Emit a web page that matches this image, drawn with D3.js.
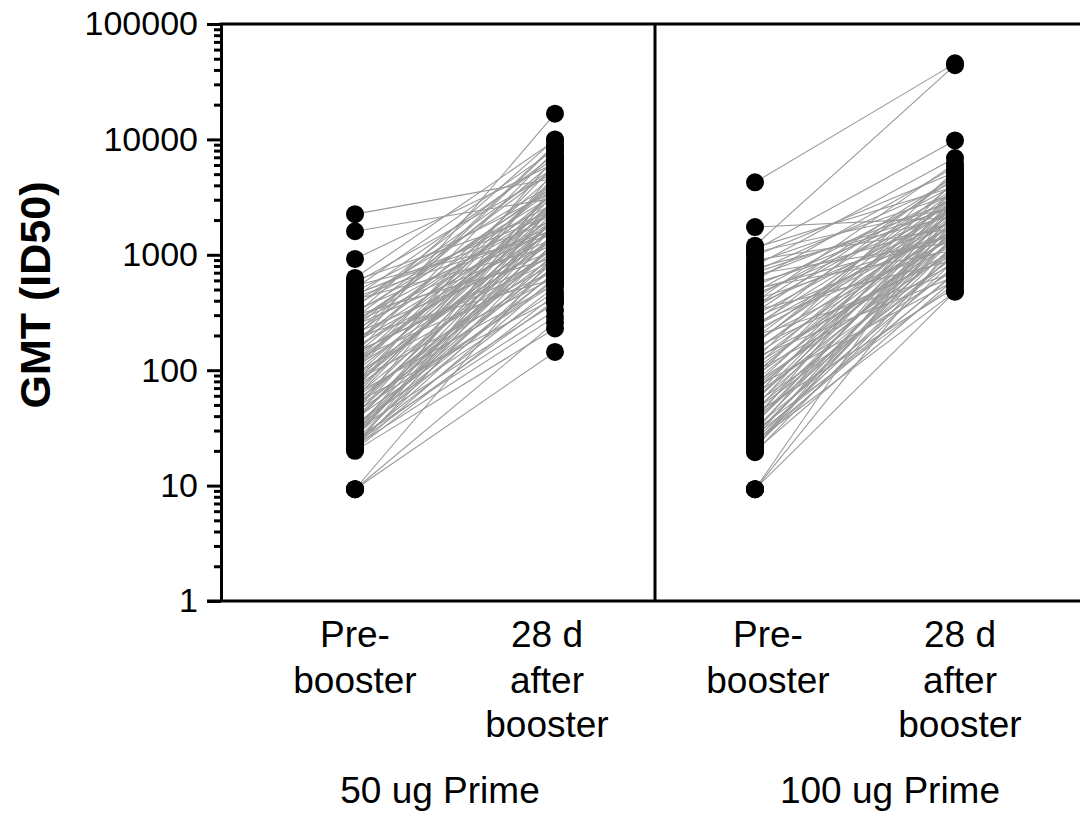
<!DOCTYPE html>
<html>
<head>
<meta charset="utf-8">
<script src="https://d3js.org/d3.v7.min.js"></script>
<style>
  body { margin: 0; background: #fff; }
  text { font-family: "Liberation Sans", Arial, sans-serif; fill: #000; }
</style>
</head>
<body>
<div id="my_dataviz"></div>
<script>

// 50 ug prime: pre-booster and 28 d after booster, paired by index
var pre50 = [2250, 1600, 920, 630, 600, 570, 540, 510, 480, 455, 430, 410, 390, 370, 350, 330, 315, 300, 285, 270,
  258, 245, 232, 220, 210, 200, 190, 182, 175, 166, 158, 150, 143, 136, 130, 124, 118, 112, 107, 102,
  97, 93, 89, 85, 81, 77, 74, 71, 68, 65, 62, 59, 57, 54, 52, 50, 48, 46, 44, 42,
  40, 38, 37, 35, 34, 32, 31, 30, 29, 28, 27, 26, 25, 24.5, 24, 23, 22.5, 22, 21.5, 21,
  20.5, 20, 430, 265, 195, 160, 120, 99, 79, 64, 53, 43, 36, 27.5, 33, 60, 140, 300, 205,
  450, 350, 260, 180, 140, 110, 90, 70, 58, 45, 39, 31, 26, 23, 21, 9.3, 9.3, 9.3];
var post50 = [4600, 3100, 6200, 9800, 2400, 5200, 1500, 8200, 3600, 2000, 6900, 1200, 4200, 2800, 7400, 1800, 3300, 950, 5600, 2300,
  4000, 1400, 6500, 2700, 1100, 3800, 8800, 2100, 1600, 5000, 16700, 2500, 900, 3500, 1900, 720, 4500, 2900, 1300, 6000,
  2200, 850, 3000, 1700, 640, 4800, 2000, 1150, 7000, 2600, 560, 1500, 3400, 980, 420, 2400, 1800, 760, 5400, 1250,
  3100, 600, 1450, 2700, 480, 880, 1900, 380, 1300, 4100, 700, 2200, 330, 1050, 530, 1600, 820, 290, 2900, 640,
  450, 230, 1650, 3900, 620, 1350, 2050, 4400, 1750, 2850, 1100, 560, 2050, 1550, 950, 3700, 8000, 10000, 9000,
  2300, 5800, 1700, 3200, 1000, 2600, 1400, 3600, 780, 2100, 1200, 700, 1800, 400, 1300, 144, 260, 1000];

// 100 ug prime
var pre100 = [4250, 1740, 1200, 1100, 1050, 980, 900, 850, 800, 760, 720, 680, 640, 600, 570, 540, 510, 480, 455, 430,
  410, 390, 370, 350, 330, 315, 300, 285, 270, 258, 245, 232, 220, 210, 200, 190, 182, 175, 166, 158,
  150, 143, 136, 130, 124, 118, 112, 107, 102, 97, 93, 89, 85, 81, 77, 74, 71, 68, 65, 62,
  59, 57, 54, 52, 50, 48, 46, 44, 42, 40, 38, 37, 35, 34, 32, 31, 30, 29, 28, 27,
  26, 25, 24, 23, 22, 21, 20, 19.5,
  1150, 700, 500, 360, 240, 170, 125, 95, 72, 55, 45, 36, 28, 24, 21, 9.3, 9.3, 9.3];
var post100 = [45600, 2100, 44000, 9800, 2600, 5200, 1700, 3400, 6900, 2200, 4300, 1300, 3000, 5800, 1900, 2700, 1100, 4000, 2400, 3500,
  1500, 6200, 2000, 3200, 900, 4600, 2500, 1600, 3800, 1200, 2900, 5000, 1800, 2300, 700, 3600, 1400, 2700, 4200, 1000,
  2100, 3100, 1700, 650, 5400, 2400, 1300, 3300, 1900, 850, 2800, 1500, 4400, 2000, 1100, 3000, 600, 1750, 2500, 950,
  3700, 1400, 2200, 750, 1600, 3200, 1200, 2600, 520, 1900, 1000, 4000, 1450, 2300, 800, 1700, 560, 2900, 1250, 680,
  2000, 1050, 480, 1500, 900, 2400, 620, 1150,
  3900, 2600, 1500, 4800, 2000, 3300, 1100, 2300, 1600, 2900, 900, 2100, 1400, 700, 1800, 480, 1300, 3000];

var groups = ["50 ug Prime", "100 ug Prime"];
var timeLabels = [["Pre-", "booster"], ["28 d", "after", "booster"]];
var majorTicks = [1, 10, 100, 1000, 10000, 100000];

var width = 1080, height = 816;

var svg = d3.select("#my_dataviz")
  .append("svg")
    .attr("width", width)
    .attr("height", height);

// log Y axis
var y = d3.scaleLog()
  .domain([1, 100000])
  .range([601, 24]);

// slot 0..3 : pre50, post50, pre100, post100
var x = d3.scaleLinear()
  .domain([0, 3])
  .range([355, 955]);

var axisX = 221;

// minor ticks
var minor = [];
for (var p = 0; p < 5; p++) {
  for (var m = 2; m <= 9; m++) minor.push(m * Math.pow(10, p));
}

svg.append("g")
  .attr("transform", "translate(" + axisX + ",0)")
  .call(d3.axisLeft(y).tickValues(minor).tickSize(7).tickFormat(""))
  .call(function(g) { g.select(".domain").remove(); })
  .selectAll("line").attr("stroke-width", 3);

svg.append("g")
  .attr("transform", "translate(" + axisX + ",0)")
  .call(d3.axisLeft(y).tickValues(majorTicks).tickSize(14).tickSizeOuter(0).tickPadding(9).tickFormat(d3.format("d")))
  .call(function(g) {
    g.select(".domain").attr("stroke-width", 3);
    g.selectAll("line").attr("stroke-width", 3);
    g.selectAll("text").style("font-size", "34px").style("font-family", "'Liberation Sans', Arial, sans-serif");
  });

// frame: top, bottom, divider
svg.append("line")
  .attr("x1", axisX - 1.5).attr("x2", width)
  .attr("y1", y(100000)).attr("y2", y(100000))
  .attr("stroke", "black").attr("stroke-width", 3);
svg.append("line")
  .attr("x1", axisX - 14).attr("x2", width)
  .attr("y1", y(1)).attr("y2", y(1))
  .attr("stroke", "black").attr("stroke-width", 3);
svg.append("line")
  .attr("x1", x(1.5)).attr("x2", x(1.5))
  .attr("y1", y(100000)).attr("y2", y(1))
  .attr("stroke", "black").attr("stroke-width", 3);

// pairs
var panels = [
  { slot: 0, pre: pre50, post: post50 },
  { slot: 2, pre: pre100, post: post100 }
];

panels.forEach(function(pn) {
  var pairs = pn.pre.map(function(v, i) { return [v, pn.post[i]]; });

  svg.append("g").selectAll("line")
    .data(pairs)
    .enter()
    .append("line")
      .attr("x1", x(pn.slot))
      .attr("x2", x(pn.slot + 1))
      .attr("y1", function(d) { return y(d[0]); })
      .attr("y2", function(d) { return y(d[1]); })
      .attr("stroke", "#999")
      .attr("stroke-width", 1.1);

  var g = svg.append("g");
  g.selectAll("c1")
    .data(pn.pre)
    .enter()
    .append("circle")
      .attr("cx", x(pn.slot))
      .attr("cy", function(d) { return y(d); })
      .attr("r", 9)
      .attr("fill", "black");
  g.selectAll("c2")
    .data(pn.post)
    .enter()
    .append("circle")
      .attr("cx", x(pn.slot + 1))
      .attr("cy", function(d) { return y(d); })
      .attr("r", 9)
      .attr("fill", "black");
});

// category labels
var labelShift = [0, -8, 13, 5];
var lineY = [647, 693, 737];
for (var s = 0; s < 4; s++) {
  var lines = timeLabels[s % 2];
  var t = svg.append("text")
    .attr("text-anchor", "middle")
    .style("font-size", "37px");
  lines.forEach(function(l, i) {
    t.append("tspan")
      .attr("x", x(s) + labelShift[s])
      .attr("y", lineY[i])
      .text(l);
  });
}

// group labels
svg.selectAll("grp")
  .data(groups)
  .enter()
  .append("text")
    .attr("x", function(d, i) { return (x(i * 2) + x(i * 2 + 1)) / 2 + (i == 0 ? -15 : 35); })
    .attr("y", 803)
    .attr("text-anchor", "middle")
    .style("font-size", "37px")
    .text(function(d) { return d; });

// y title
svg.append("text")
  .attr("transform", "translate(50,295) rotate(-90)")
  .attr("text-anchor", "middle")
  .style("font-size", "43px")
  .style("font-weight", "bold")
  .text("GMT (ID50)");

</script>
</body>
</html>
